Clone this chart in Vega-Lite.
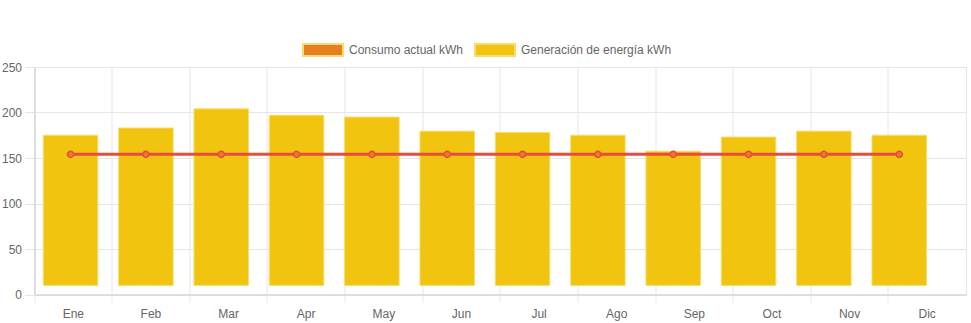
{
  "$schema": "https://vega.github.io/schema/vega-lite/v6.json",
  "autosize": "none",
  "width": 931.5,
  "height": 227.5,
  "padding": {"left": 34.5, "top": 67, "right": 5, "bottom": 28.5},
  "background": "white",
  "config": {
    "font": "Liberation Sans",
    "view": {"stroke": "#e6e6e6"},
    "axis": {"labelColor": "#666666", "labelFontSize": 12, "gridColor": "#e6e6e6", "tickColor": "#e6e6e6", "domainColor": "#cfcfcf", "labelFont": "Liberation Sans"}
  },
  "data": {
    "values": [
      {"mes": "Ene", "gen": 175, "cons": 154, "base": 10, "s1": "Generación de energía kWh"},
      {"mes": "Feb", "gen": 183, "cons": 154, "base": 10, "s1": "Generación de energía kWh"},
      {"mes": "Mar", "gen": 204, "cons": 154, "base": 10, "s1": "Generación de energía kWh"},
      {"mes": "Apr", "gen": 197, "cons": 154, "base": 10, "s1": "Generación de energía kWh"},
      {"mes": "May", "gen": 195, "cons": 154, "base": 10, "s1": "Generación de energía kWh"},
      {"mes": "Jun", "gen": 179.5, "cons": 154, "base": 10, "s1": "Generación de energía kWh"},
      {"mes": "Jul", "gen": 178, "cons": 154, "base": 10, "s1": "Generación de energía kWh"},
      {"mes": "Ago", "gen": 175, "cons": 154, "base": 10, "s1": "Generación de energía kWh"},
      {"mes": "Sep", "gen": 157.5, "cons": 154, "base": 10, "s1": "Generación de energía kWh"},
      {"mes": "Oct", "gen": 173, "cons": 154, "base": 10, "s1": "Generación de energía kWh"},
      {"mes": "Nov", "gen": 179.5, "cons": 154, "base": 10, "s1": "Generación de energía kWh"},
      {"mes": "Dic", "gen": 175, "cons": 154, "base": 10, "s1": "Generación de energía kWh"}
    ]
  },
  "resolve": {"scale": {"x": "independent"}, "axis": {"x": "independent"}},
  "layer": [
    {
      "mark": {"type": "point", "opacity": 0},
      "encoding": {
        "x": {
          "field": "mes", "type": "nominal",
          "sort": ["Ene","Feb","Mar","Apr","May","Jun","Jul","Ago","Sep","Oct","Nov","Dic"],
          "scale": {"type": "band", "paddingInner": 0, "paddingOuter": 0},
          "axis": {"title": null, "orient": "bottom", "labelAngle": 0, "bandPosition": 0, "tickSize": 8, "labelPadding": 6, "grid": true, "labelOverlap": false, "labelBound": false}
        },
        "y": {"field": "cons", "type": "quantitative", "scale": {"domain": [0, 250], "nice": false}, "axis": {"title": null, "values": [0,50,100,150,200,250], "tickSize": 10, "labelPadding": 3, "grid": true}}
      }
    },
    {
      "encoding": {
        "x": {
          "field": "mes", "type": "nominal",
          "sort": ["Ene","Feb","Mar","Apr","May","Jun","Jul","Ago","Sep","Oct","Nov","Dic"],
          "scale": {"type": "band", "paddingInner": 0, "paddingOuter": 0, "range": [-1.6, 902.4]},
          "axis": null
        }
      },
      "layer": [
        {
          "mark": {"type": "bar", "stroke": "#f7dc6f", "strokeWidth": 1, "width": {"band": 0.7235}},
          "encoding": {
            "y": {"field": "gen", "type": "quantitative"},
            "y2": {"field": "base"},
            "fill": {
              "field": "s1", "type": "nominal",
              "scale": {"domain": ["Consumo actual kWh", "Generación de energía kWh"], "range": ["#e67e22", "#f1c40f"]},
              "legend": {
                "title": null, "orient": "none", "legendX": 267.5, "legendY": -38, "direction": "horizontal",
                "symbolType": "M-1,-0.3H1V0.3H-1Z", "symbolSize": 1600, "symbolStrokeWidth": 2, "symbolOpacity": 1,
                "labelFontSize": 12, "labelColor": "#666666", "labelOffset": 5, "columnPadding": 7, "labelFont": "Liberation Sans",
                "labelLimit": 300,
                "encode": {"symbols": {"update": {"stroke": {"signal": "datum.value === 'Consumo actual kWh' ? '#e74c3c' : '#f7dc6f'"}, "fillOpacity": {"value": 1}}}}
              }
            }
          }
        },
        {
          "mark": {"type": "line", "color": "#e74c3c", "strokeWidth": 3},
          "encoding": {"y": {"field": "cons", "type": "quantitative"}}
        },
        {
          "mark": {"type": "point", "filled": true, "fill": "#e67e22", "stroke": "#e74c3c", "strokeWidth": 1.5, "size": 38, "opacity": 1},
          "encoding": {"y": {"field": "cons", "type": "quantitative"}}
        }
      ]
    }
  ]
}
